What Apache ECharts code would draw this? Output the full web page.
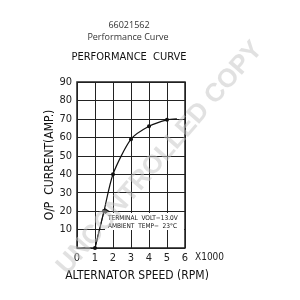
<!DOCTYPE html>
<html>
<head>
<meta charset="UTF-8">
<title>Performance Curve</title>
<script src="https://cdn.jsdelivr.net/npm/echarts@6/dist/echarts.min.js"></script>
</head>
<body style="margin:0">
    <div id="main" style="width: 300px;height:300px;"></div>
    <script type="text/javascript">
        // 曲线上的点 (转速 x1000, 电流 A)
        var speed = [1, 1.5, 2, 3, 4, 5, 5.55];
        var current = [0, 20, 40, 59, 66, 69.5, 70];
        var dotted = [true, true, true, true, true, true, false];
        var xTicks = ['0', '1', '2', '3', '4', '5', '6'];

        var font = '"Liberation Sans Narrow", "DejaVu Sans Condensed", "Liberation Sans", sans-serif';
        var myChart = echarts.init(document.getElementById('main'));

        var pts = speed.map(function (s, i) {
            return {value: [s, current[i]], symbolSize: dotted[i] ? 4 : 0};
        });

        var option = {
            backgroundColor: '#fff',
            animation: false,
            grid: {left: 77, right: 115, top: 82, bottom: 52},
            xAxis: {
                type: 'value', min: 0, max: 6, interval: 1,
                axisLine: {show: false},
                axisTick: {show: false},
                axisLabel: {
                    color: '#222', fontSize: 11, fontFamily: font, margin: 5,
                    formatter: function (v) { return xTicks[v]; }
                },
                splitLine: {lineStyle: {color: '#222', width: 1}},
                name: 'ALTERNATOR SPEED (RPM)',
                nameLocation: 'middle', nameGap: 22,
                nameTextStyle: {color: '#111', fontSize: 12, fontFamily: font, padding: [0, 0, 0, 12]}
            },
            yAxis: {
                type: 'value', min: 0, max: 90, interval: 10,
                axisLine: {show: false},
                axisTick: {show: false},
                axisLabel: {color: '#222', fontSize: 11, fontFamily: font, margin: 5,
                    formatter: function (v) { return v === 0 ? '' : v; }},
                splitLine: {lineStyle: {color: '#222', width: 1}},
                name: 'O/P  CURRENT(AMP.)',
                nameLocation: 'middle', nameGap: 21,
                nameTextStyle: {color: '#111', fontSize: 12, fontFamily: font}
            },
            graphic: [
                {type: 'rect', shape: {x: 77, y: 82, width: 108, height: 166},
                    style: {fill: 'none', stroke: '#222', lineWidth: 1.5}, z: 5},
                {type: 'rect', shape: {x: 105, y: 213, width: 79, height: 17},
                    style: {fill: '#fff'}, z: 4},
                {type: 'text', x: 108, y: 215, z: 6,
                    style: {text: 'TERMINAL  VOLT\u221213.0V\nAMBIENT  TEMP\u2212  23\u00b0C',
                        fill: '#111', font: '6.5px ' + font, lineHeight: 7.5}},
                {type: 'text', x: 129, y: 21, z: 6,
                    style: {text: '66021562', fill: '#333', font: '9px "Open Sans", sans-serif', textAlign: 'center'}},
                {type: 'text', x: 128, y: 33, z: 6,
                    style: {text: 'Performance Curve', fill: '#333', font: '9px "Open Sans", sans-serif', textAlign: 'center'}},
                {type: 'text', x: 129, y: 52, z: 6,
                    style: {text: 'PERFORMANCE  CURVE', fill: '#111', font: '11px ' + font, textAlign: 'center'}},
                {type: 'text', x: 195, y: 252, z: 6,
                    style: {text: 'X1000', fill: '#222', font: '10px ' + font}},
                {type: 'text', x: 160, y: 158, z: 20, rotation: 49 * Math.PI / 180,
                    style: {text: 'UNCONTROLLED COPY', fill: 'rgba(195,195,195,0.5)',
                        font: 'bold 26px "Liberation Sans", Arial, sans-serif',
                        textAlign: 'center', textVerticalAlign: 'middle'}}
            ],
            series: [{
                type: 'line',
                data: pts,
                smooth: 0.25,
                symbol: 'circle',
                itemStyle: {color: '#111'},
                lineStyle: {color: '#111', width: 1.2},
                z: 7
            }, {
                // 指向注释的箭头
                type: 'line',
                data: [[1, 0], [1.5, 20]],
                symbol: 'none',
                lineStyle: {color: '#111', width: 0.8},
                markLine: {
                    silent: true, symbol: ['none', 'arrow'], symbolSize: 5, label: {show: false},
                    lineStyle: {color: '#111', width: 0.8, type: 'solid'},
                    data: [[{coord: [1.5, 20]}, {coord: [1.8, 20]}]]
                },
                z: 7
            }]
        };
        myChart.setOption(option);
    </script>
</body>
</html>
